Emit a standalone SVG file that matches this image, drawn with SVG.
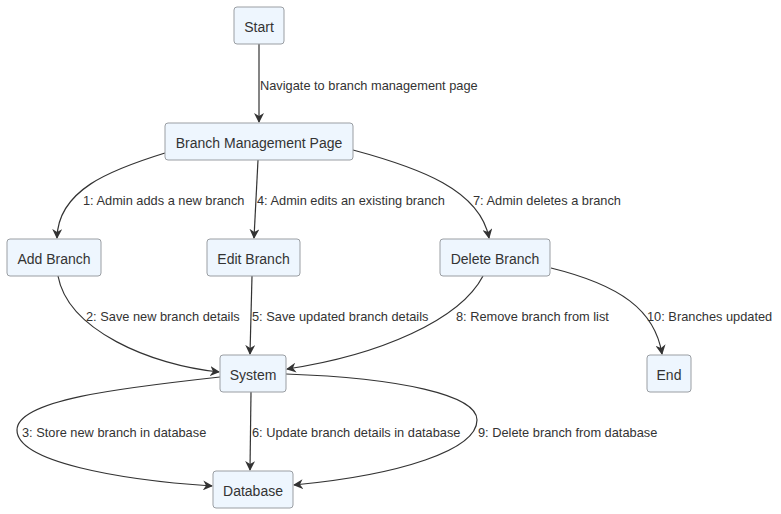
<svg xmlns="http://www.w3.org/2000/svg" width="781" height="514" viewBox="0 0 781 514">
<style>
.node rect{fill:#eef6fe;stroke:#9a9ea3;stroke-width:1;}
.node text{font-family:"Liberation Sans",Arial,sans-serif;font-size:14px;fill:#333;text-anchor:middle;dominant-baseline:central;}
.edge{fill:none;stroke:#333;stroke-width:1.2;marker-end:url(#arr);}
.lbl{font-family:"Liberation Sans",Arial,sans-serif;font-size:12.8px;fill:#333;}
</style>
<defs>
<marker id="arr" viewBox="0 0 10 10" refX="9" refY="5" markerWidth="10" markerHeight="10" markerUnits="userSpaceOnUse" orient="auto">
<path d="M0,0 L10,5 L0,10 L3,5 z" fill="#333"/>
</marker>
</defs>
<rect width="781" height="514" fill="#fff"/>
<g id="connectors">
<path class="edge" d="M259,44 L259,122"/>
<path class="edge" d="M165,153 C110,170 58,190 57,238"/>
<path class="edge" d="M258,160 L254,238"/>
<path class="edge" d="M353,150 C420,168 480,190 489,238"/>
<path class="edge" d="M58,276 C68,330 150,365 219,372"/>
<path class="edge" d="M252,276 L250,354"/>
<path class="edge" d="M483,276 C460,320 380,355 287,369"/>
<path class="edge" d="M551,268 C620,285 655,310 662,354"/>
<path class="edge" d="M220,377 C120,388 17,400 17,430 C17,462 120,480 212,486"/>
<path class="edge" d="M251,392 L250,470"/>
<path class="edge" d="M286,374 C400,378 477,395 477,420 C477,450 400,475 294,485"/>
<text class="lbl" x="260" y="89.5">Navigate to branch management page</text>
<text class="lbl" x="83" y="204.5">1: Admin adds a new branch</text>
<text class="lbl" x="257" y="204.5">4: Admin edits an existing branch</text>
<text class="lbl" x="473" y="204.5">7: Admin deletes a branch</text>
<text class="lbl" x="86" y="320.5">2: Save new branch details</text>
<text class="lbl" x="252" y="320.5">5: Save updated branch details</text>
<text class="lbl" x="456" y="320.5">8: Remove branch from list</text>
<text class="lbl" x="647" y="320.5">10: Branches updated</text>
<text class="lbl" x="22" y="436.5">3: Store new branch in database</text>
<text class="lbl" x="252" y="436.5">6: Update branch details in database</text>
<text class="lbl" x="478" y="436.5">9: Delete branch from database</text>
</g>
<g id="start" class="node"><rect x="234" y="7" width="50" height="37" rx="3"/><text x="259" y="26.5">Start</text></g>
<g id="bmp" class="node"><rect x="165" y="123" width="188" height="37" rx="3"/><text x="259" y="142.5">Branch Management Page</text></g>
<g id="add" class="node"><rect x="7" y="239" width="94" height="37" rx="3"/><text x="54" y="258.5">Add Branch</text></g>
<g id="edit" class="node"><rect x="207" y="239" width="93" height="37" rx="3"/><text x="253.5" y="258.5">Edit Branch</text></g>
<g id="delete" class="node"><rect x="440" y="239" width="110" height="37" rx="3"/><text x="495" y="258.5">Delete Branch</text></g>
<g id="end" class="node"><rect x="647" y="355" width="44" height="37" rx="3"/><text x="669" y="374.5">End</text></g>
<g id="system" class="node"><rect x="220" y="355" width="66" height="37" rx="3"/><text x="253" y="374.5">System</text></g>
<g id="database" class="node"><rect x="213" y="471" width="80" height="37" rx="3"/><text x="253" y="490.5">Database</text></g>
</svg>
